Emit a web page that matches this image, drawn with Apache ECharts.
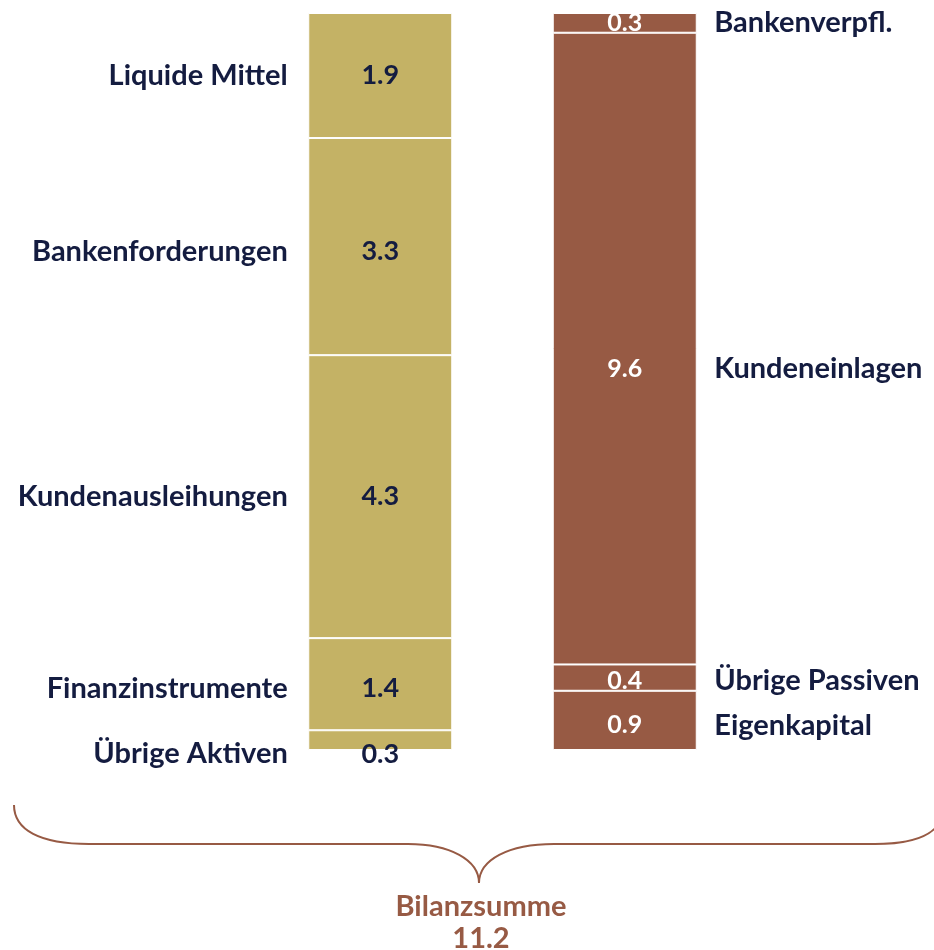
<!DOCTYPE html>
<html>
<head>
<meta charset="utf-8">
<script src="https://cdn.jsdelivr.net/npm/echarts@6/dist/echarts.min.js"></script>
<style>
  html, body { margin: 0; padding: 0; background: #fff; }
  #chart { width: 934px; height: 950px; }
</style>
</head>
<body>
<div id="chart"></div>
<script>
// Aktiva (links) und Passiva (rechts), von oben nach unten
var aktivaNames = ['Liquide Mittel', 'Bankenforderungen', 'Kundenausleihungen', 'Finanzinstrumente', 'Übrige Aktiven'];
var aktivaValues = [1.9, 3.3, 4.3, 1.4, 0.3];
var passivaNames = ['Bankenverpfl.', 'Kundeneinlagen', 'Übrige Passiven', 'Eigenkapital'];
var passivaValues = [0.3, 9.6, 0.4, 0.9];
var totalLabel = 'Bilanzsumme';

var navy = '#141c40',
    khaki = '#c4b265',
    brown = '#975a44',
    font = 'Lato';

var total = 0;
aktivaValues.map(function(v){ total += v; });

function mids(values){
    var out = [], acc = 0;
    values.map(function(v){
        out.push(acc + v / 2);
        acc += v;
    });
    return out;
}

// kleine Verschiebungen der Beschriftung wie im Original
var nudge = {
    'Übrige Aktiven': 14, 'Kundeneinlagen': 20, 'Bankenforderungen': 5, 'Finanzinstrumente': 4,
    'Übrige Passiven': 3, 'Eigenkapital': 5
};

var series = [];
aktivaValues.map(function(v, i){
    series.push({
        type: 'bar',
        stack: 'bilanz',
        barWidth: 144,
        itemStyle: { color: khaki, borderColor: '#fff', borderWidth: 1 },
        label: {
            show: true,
            position: 'inside',
            offset: [0, nudge[aktivaNames[i]] || 0],
            color: navy,
            fontFamily: font,
            fontWeight: 'bold',
            fontSize: 27,
            formatter: function(p){ return p.value.toFixed(1); }
        },
        data: [v, '-']
    });
});
passivaValues.map(function(v, i){
    series.push({
        type: 'bar',
        stack: 'bilanz',
        barWidth: 144,
        itemStyle: { color: brown, borderColor: '#fff', borderWidth: 1 },
        label: {
            show: true,
            position: 'inside',
            offset: [0, nudge[passivaNames[i]] || 0],
            color: '#fff',
            fontFamily: font,
            fontWeight: 'bold',
            fontSize: 25,
            formatter: function(p){ return p.value.toFixed(1); }
        },
        data: ['-', v]
    });
});

function nameSeries(names, values, catIndex, side){
    var m = mids(values);
    return {
        type: 'scatter',
        symbolSize: 1,
        itemStyle: { color: 'rgba(0,0,0,0)', opacity: 1 },
        label: {
            show: true,
            position: side,
            distance: side === 'left' ? 92 : 89,
            color: navy,
            fontFamily: font,
            fontWeight: 'bold',
            fontSize: 29,
            formatter: function(p){ return names[p.dataIndex]; }
        },
        data: m.map(function(y, i){
            return { value: [catIndex, y], label: { offset: [0, nudge[names[i]] || 0] } };
        })
    };
}
series.push(nameSeries(aktivaNames, aktivaValues, 0, 'left'));
series.push(nameSeries(passivaNames, passivaValues, 1, 'right'));

// geschweifte Klammer unter beiden Säulen
var braceStyle = { fill: 'none', stroke: brown, lineWidth: 2 };
function curve(x1, y1, c1x, c1y, c2x, c2y, x2, y2){
    return { type: 'bezierCurve', shape: { x1: x1, y1: y1, cpx1: c1x, cpy1: c1y, cpx2: c2x, cpy2: c2y, x2: x2, y2: y2 }, style: braceStyle };
}
function line(x1, y1, x2, y2){
    return { type: 'line', shape: { x1: x1, y1: y1, x2: x2, y2: y2 }, style: braceStyle };
}
var brace = [
    curve(14, 805, 14, 830, 40, 844, 89, 844),
    line(89, 844, 408, 844),
    curve(408, 844, 450, 844, 479, 860, 479, 883),
    curve(479, 883, 479, 860, 508, 844, 554, 844),
    line(554, 844, 875, 844),
    curve(875, 844, 924, 844, 944, 830, 944, 805)
];

var chart = echarts.init(document.getElementById('chart'));
chart.setOption({
    animation: false,
    grid: { left: 258, right: 187, top: 13, bottom: 200 },
    xAxis: { type: 'category', data: ['Aktiva', 'Passiva'], show: false },
    yAxis: { type: 'value', inverse: true, min: 0, max: total, show: false, splitLine: { show: false } },
    title: {
        text: totalLabel + '\n' + total.toFixed(1),
        left: 476,
        top: 886,
        textAlign: 'center',
        textStyle: { color: brown, fontFamily: font, fontWeight: 'bold', fontSize: 29, lineHeight: 32 }
    },
    graphic: brace,
    series: series
});
</script>
</body>
</html>
